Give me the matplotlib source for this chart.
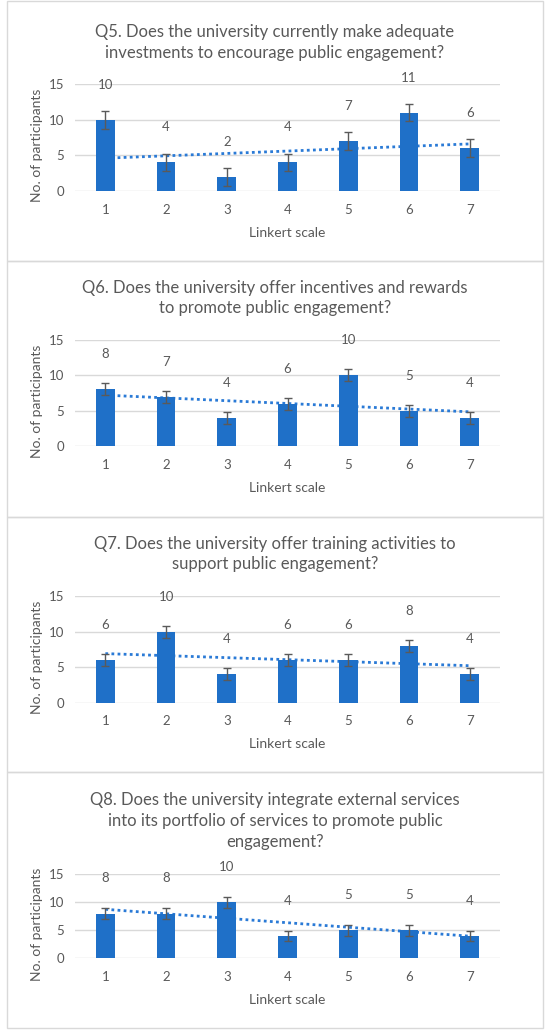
import numpy as np
import matplotlib
matplotlib.use("Agg")
import matplotlib.pyplot as plt
from matplotlib.patches import Rectangle

plt.rcParams["font.family"] = ["Lato", "DejaVu Sans"]

# Likert points and per-question counts
likert = [1, 2, 3, 4, 5, 6, 7]

titles = [
    "Q5. Does the university currently make adequate\ninvestments to encourage public engagement?",
    "Q6. Does the university offer incentives and rewards\nto promote public engagement?",
    "Q7. Does the university offer training activities to\nsupport public engagement?",
    "Q8. Does the university integrate external services\ninto its portfolio of services to promote public\nengagement?",
]

q5 = [10, 4, 2, 4, 7, 11, 6]
q6 = [8, 7, 4, 6, 10, 5, 4]
q7 = [6, 10, 4, 6, 6, 8, 4]
q8 = [8, 8, 10, 4, 5, 5, 4]
counts = [q5, q6, q7, q8]

# error bar half-widths
errs = [1.25, 0.85, 0.85, 0.95]

# trendline values at Likert 1 and 7
trend_ends = [(4.6, 6.6), (7.2, 4.85), (6.9, 5.2), (8.75, 3.95)]

y_ticks = [0, 5, 10, 15]

BAR = "#1f70c8"
TREND = "#2a7ad6"
TXT = "#595959"
GRID = "#d9d9d9"

W, H = 550, 1036
fig = plt.figure(figsize=(W / 100, H / 100), dpi=100)


def fx(px):
    return px / W


def fy(py):
    return 1 - py / H


# panel layout in pixels (from top of image)
boxes = [(1, 261), (261, 517), (517, 772), (772, 1028)]
ax_top = [84, 339.7, 596, 874.3]
ax_bot = [191, 446.3, 702.7, 958.3]
title_mid = [42.5, 298, 554, 821]
ax_left, ax_right = 75, 500

for i in range(4):
    b0, b1 = boxes[i]
    fig.patches.append(Rectangle((fx(7), fy(b1)), fx(543) - fx(7), fy(b0) - fy(b1),
                                 transform=fig.transFigure, fill=False,
                                 edgecolor=GRID, linewidth=1.0))

    ax = fig.add_axes([fx(ax_left), fy(ax_bot[i]), fx(ax_right - ax_left),
                       fy(ax_top[i]) - fy(ax_bot[i])])
    vals = counts[i]

    t0, t1 = trend_ends[i]
    ax.plot([likert[0], likert[-1]], [t0, t1], color=TREND, linestyle=(0, (1, 1.2)),
            linewidth=2.0, zorder=1)
    ax.bar(likert, vals, width=0.31, color=BAR, zorder=2)
    ax.errorbar(likert, vals, yerr=errs[i], fmt="none", ecolor="#5a5a5a",
                elinewidth=1.0, capsize=3, capthick=1.0, zorder=3)

    for x, v in zip(likert, vals):
        ax.annotate(str(v), (x, v), xytext=(0, 35), textcoords="offset pixels",
                    ha="center", va="center", fontsize=9.5, color=TXT,
                    annotation_clip=False)

    ax.set_xlim(0.5, 7.5)
    ax.set_ylim(0, 15)
    ax.set_xticks(likert)
    ax.set_yticks(y_ticks)
    ax.yaxis.grid(True, color=GRID, linewidth=1.0)
    ax.set_axisbelow(True)
    for s in ax.spines.values():
        s.set_visible(False)
    ax.tick_params(length=0, labelsize=9.5, labelcolor=TXT)
    ax.tick_params(axis="x", pad=9)
    ax.tick_params(axis="y", pad=8)

    ax.set_xlabel("Linkert scale", fontsize=10, color=TXT, labelpad=8)
    fig.text(fx(37), fy((ax_top[i] + ax_bot[i]) / 2 + 8), "No. of participants",
             rotation=90, ha="center", va="center", fontsize=10, color=TXT)

    fig.text(fx(275), fy(title_mid[i]), titles[i], ha="center", va="center",
             fontsize=12, color=TXT, linespacing=1.35)

fig.savefig("out.png", dpi=100, facecolor="white")
